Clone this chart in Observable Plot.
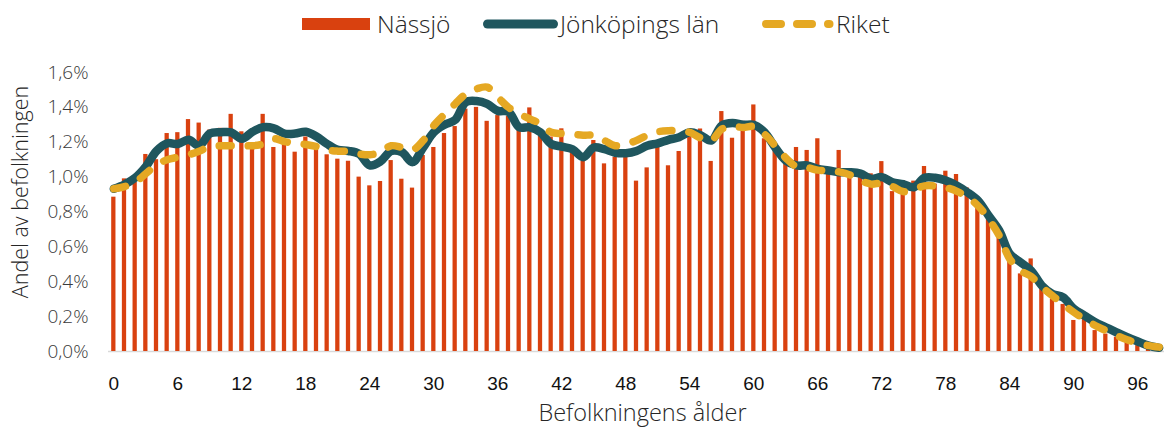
<!DOCTYPE html>
<html>
<head>
<meta charset="utf-8">
<script src="https://cdn.jsdelivr.net/npm/d3@7"></script>
<script src="https://cdn.jsdelivr.net/npm/@observablehq/plot@0.6"></script>
<style>
  html, body { margin: 0; padding: 0; background: #fff; }
  #wrap { width: 1166px; height: 428px; position: relative; overflow: hidden; }
  #legend { position: relative; width: 1166px; height: 45px; font-family: "Open Sans", Lato, sans-serif; font-weight: 300; color: #262626; font-size: 24.5px; }
  #legend .t { position: absolute; top: 24px; transform: translateY(-50%); line-height: 1; white-space: nowrap; }
  #legend svg { position: absolute; left: 0; top: 0; }
</style>
</head>
<body>
<div id="wrap">
  <div id="legend"></div>
  <div id="chart"></div>
</div>
<script>
// ---- data (percent of population by age 0..98) ----
const ages = d3.range(0, 99);

const nassjo = [
  0.885, 0.99, 0.97, 1.13, 1.10, 1.25, 1.255, 1.33, 1.31, 1.27,
  1.28, 1.36, 1.26, 1.185, 1.36, 1.17, 1.20, 1.143, 1.23, 1.17,
  1.128, 1.103, 1.091, 1.0, 0.95, 0.975, 1.095, 0.988, 0.937, 1.124,
  1.17, 1.25, 1.29, 1.39, 1.40, 1.32, 1.353, 1.35, 1.27, 1.397,
  1.233, 1.23, 1.277, 1.15, 1.09, 1.21, 1.076, 1.114, 1.13, 0.977,
  1.053, 1.175, 1.065, 1.147, 1.24, 1.276, 1.09, 1.376, 1.223, 1.32,
  1.414, 1.22, 1.17, 1.095, 1.17, 1.153, 1.22, 1.04, 1.153, 1.03,
  1.01, 1.019, 1.089, 0.917, 0.98, 0.977, 1.061, 0.96, 1.034, 1.015,
  0.938, 0.885, 0.789, 0.68, 0.56, 0.445, 0.531, 0.369, 0.302, 0.27,
  0.178, 0.185, 0.12, 0.10, 0.082, 0.053, 0.034, 0.021, 0.01
];

const jonkoping = [
  0.933, 0.958, 0.996, 1.06, 1.15, 1.194, 1.19, 1.214, 1.18, 1.25,
  1.257, 1.257, 1.22, 1.26, 1.286, 1.28, 1.25, 1.25, 1.26, 1.233,
  1.19, 1.156, 1.15, 1.133, 1.067, 1.09, 1.15, 1.143, 1.086, 1.17,
  1.257, 1.30, 1.328, 1.43, 1.436, 1.42, 1.38, 1.375, 1.286, 1.286,
  1.257, 1.19, 1.175, 1.16, 1.114, 1.17, 1.16, 1.14, 1.137, 1.15,
  1.18, 1.194, 1.214, 1.229, 1.257, 1.24, 1.21, 1.296, 1.31, 1.30,
  1.30, 1.257, 1.17, 1.095, 1.067, 1.067, 1.047, 1.038, 1.028, 1.028,
  1.02, 0.99, 1.0, 0.971, 0.96, 0.942, 0.996, 0.996, 0.98, 0.952,
  0.914, 0.866, 0.78, 0.694, 0.56, 0.512, 0.464, 0.378, 0.33, 0.31,
  0.245, 0.206, 0.168, 0.139, 0.11, 0.082, 0.057, 0.034, 0.021
];

const riket = [
  0.933, 0.946, 0.97, 1.02, 1.07, 1.10, 1.114, 1.128, 1.149, 1.175,
  1.18, 1.18, 1.18, 1.18, 1.19, 1.22, 1.204, 1.194, 1.187, 1.175,
  1.156, 1.149, 1.147, 1.133, 1.128, 1.143, 1.18, 1.17, 1.156, 1.21,
  1.296, 1.36, 1.42, 1.477, 1.506, 1.516, 1.458, 1.40, 1.363, 1.334,
  1.305, 1.257, 1.25, 1.246, 1.24, 1.24, 1.21, 1.18, 1.19, 1.21,
  1.24, 1.26, 1.266, 1.266, 1.257, 1.225, 1.21, 1.276, 1.29, 1.285,
  1.29, 1.246, 1.18, 1.11, 1.06, 1.055, 1.04, 1.038, 1.03, 1.013,
  0.98, 0.96, 0.965, 0.946, 0.917, 0.93, 0.95, 0.95, 0.94, 0.92,
  0.885, 0.837, 0.761, 0.665, 0.53, 0.464, 0.43, 0.369, 0.32, 0.27,
  0.225, 0.185, 0.149, 0.12, 0.092, 0.067, 0.048, 0.034, 0.025
];

const seriesNames = ["Nässjö", "Jönköpings län", "Riket"];
const xTicks = d3.range(0, 97, 6);
const yTicks = [0, 0.2, 0.4, 0.6, 0.8, 1.0, 1.2, 1.4, 1.6];
const xLabel = "Befolkningens ålder";
const yLabel = "Andel av befolkningen";

// ---- styles ----
const cBar = "#D9410F", cTeal = "#1F565E", cGold = "#E5A823";
const lightFont = "'Open Sans', Lato, sans-serif";

const rows = ages.map((a, i) => ({age: a, nassjo: nassjo[i], jonkoping: jonkoping[i], riket: riket[i]}));

// ---- legend ----
const legend = document.getElementById("legend");
legend.innerHTML = `
<svg width="1166" height="45">
  <rect x="302" y="18" width="68" height="12" fill="${cBar}"></rect>
  <line x1="487.5" y1="24" x2="553.5" y2="24" stroke="${cTeal}" stroke-width="9" stroke-linecap="round"></line>
  <line x1="766" y1="24" x2="829.5" y2="24" stroke="${cGold}" stroke-width="8" stroke-linecap="round" stroke-dasharray="15,16"></line>
</svg>
<span class="t" style="left:377px">${seriesNames[0]}</span>
<span class="t" style="left:560px">${seriesNames[1]}</span>
<span class="t" style="left:836px">${seriesNames[2]}</span>`;

// ---- chart ----
const chart = Plot.plot({
  width: 1166,
  height: 383,
  marginLeft: 108,
  marginRight: 2,
  marginTop: 27,
  marginBottom: 77,
  style: {background: "transparent", overflow: "visible"},
  x: {type: "linear", domain: [-0.5, 98.5]},
  y: {domain: [0, 1.6]},
  marks: [
    Plot.ruleY([0], {stroke: "#d9d9d9", strokeWidth: 1.5}),
    Plot.rectY(rows, {x1: d => d.age - 0.2, x2: d => d.age + 0.2, y1: 0, y2: "nassjo", fill: cBar}),
    Plot.line(rows, {x: "age", y: "jonkoping", stroke: cTeal, strokeWidth: 8.5, curve: "catmull-rom", strokeLinecap: "round", strokeLinejoin: "round"}),
    Plot.line(rows, {x: "age", y: "riket", stroke: cGold, strokeWidth: 7.5, curve: "catmull-rom", strokeLinecap: "round", strokeLinejoin: "round", strokeDasharray: "12,17"}),
    Plot.axisX({ticks: xTicks, tickSize: 0, tickPadding: 25, fontSize: 19, fontFamily: "'Liberation Sans', Arial, sans-serif", fill: "#111", tickFormat: d => String(d), label: null}),
    Plot.axisY({ticks: yTicks, tickSize: 0, tickPadding: 20, fontSize: 19, fontFamily: lightFont, fontWeight: 300, fill: "#3a3a3a", tickFormat: d => d.toFixed(1).replace(".", ",") + "%", label: null}),
    Plot.text([yLabel], {frameAnchor: "left", textAnchor: "middle", lineAnchor: "middle", rotate: -90, dx: -87, dy: -20, fontSize: 21.5, fontFamily: lightFont, fontWeight: 300, fill: "#262626", text: d => d}),
    Plot.text([xLabel], {frameAnchor: "bottom", textAnchor: "middle", lineAnchor: "middle", dx: 6, dy: 62, fontSize: 23.5, fontFamily: lightFont, fontWeight: 300, fill: "#262626", text: d => d})
  ]
});
document.getElementById("chart").appendChild(chart);
</script>
</body>
</html>
